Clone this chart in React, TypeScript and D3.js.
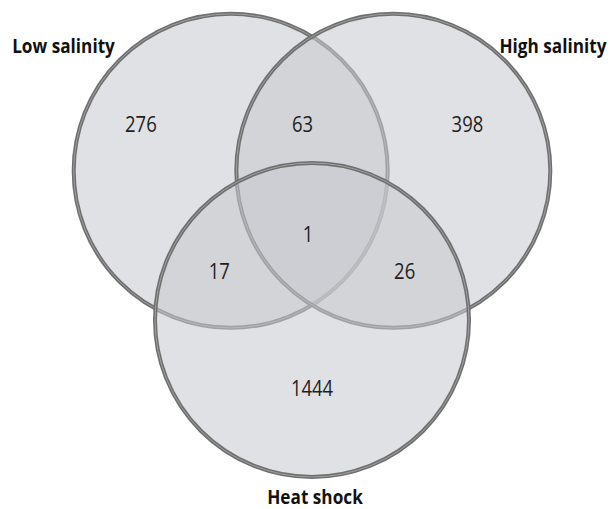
import React from "react";
import * as d3 from "d3";

const setNames = ["Low salinity", "High salinity", "Heat shock"];
// unit-layout of set centres (in radii)
const setCx = [-0.518, 0.518, 0.0];
const setCy = [-0.95, -0.95, 0.0];

const regionLabels = ["276", "63", "398", "1", "17", "26", "1444"];
const regionUx = [-1.09, -0.06, 0.99, -0.025, -0.59, 0.59, 0.0];
const regionUy = [-1.25, -1.25, -1.25, -0.55, -0.31, -0.31, 0.43];

const W = 616;
const H = 509;
const R = 157;

export default function App() {
  const x = d3.scaleLinear().domain([0, 1]).range([312, 312 + R]);
  const y = d3.scaleLinear().domain([0, 1]).range([320, 320 + R]);

  const labelPos = [
    { x: 63.5, y: 53 },
    { x: 553, y: 53 },
    { x: 315, y: 504 },
  ];

  return (
    <svg
      width={W}
      height={H}
      style={{ position: "absolute", left: 0, top: 0, background: "#fff" }}
      fontFamily="'Open Sans', 'Noto Sans', sans-serif"
    >
      {setNames.map((n, i) => (
        <g key={n}>
          <circle
            cx={x(setCx[i])}
            cy={y(setCy[i])}
            r={R}
            fill="rgb(200,202,207)"
            fillOpacity={0.56}
            stroke="#6f6f6f"
            strokeWidth={4}
          />
          <circle
            cx={x(setCx[i])}
            cy={y(setCy[i])}
            r={R}
            fill="none"
            stroke="#a0a0a0"
            strokeWidth={1}
          />
        </g>
      ))}
      {regionLabels.map((t, i) => (
        <text
          key={i}
          transform={`translate(${x(regionUx[i])},${y(regionUy[i]) + 8}) scale(0.84,1)`}
          textAnchor="middle"
          fontSize={22}
          fill="#1e1e1e"
        >
          {t}
        </text>
      ))}
      {setNames.map((n, i) => (
        <text
          key={n}
          transform={`translate(${labelPos[i].x},${labelPos[i].y}) scale(0.86,1)`}
          textAnchor="middle"
          fontSize={20}
          fontWeight="bold"
          fill="#111"
        >
          {n}
        </text>
      ))}
    </svg>
  );
}
